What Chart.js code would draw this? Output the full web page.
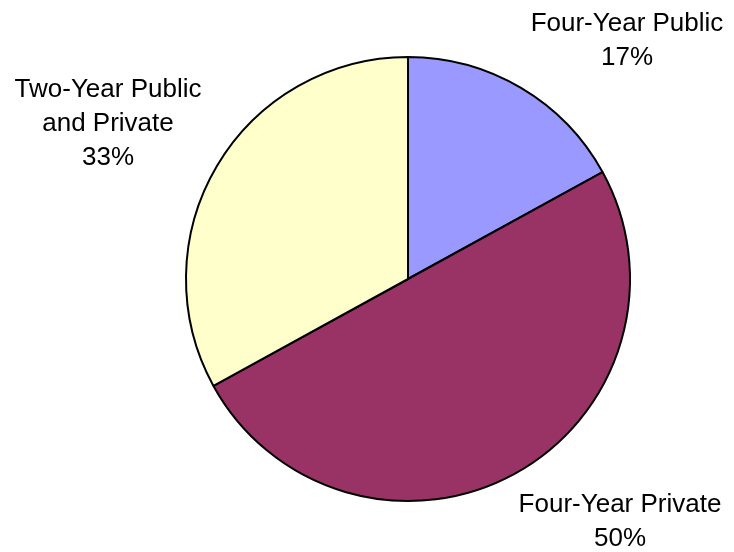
<!DOCTYPE html>
<html>
<head>
<meta charset="utf-8">
<title>Enrollment by sector</title>
<script src="https://cdn.jsdelivr.net/npm/chart.js@4"></script>
<style>
  html, body { margin: 0; padding: 0; background: #fff; }
  #wrap { width: 734px; height: 552px; }
</style>
</head>
<body>
<div id="wrap"><canvas id="grafico" width="734" height="552"></canvas></div>
<script>
const sectores = ["Four-Year Public", "Four-Year Private", "Two-Year Public and Private"];
const porcentajes = [17, 50, 33];
const colores = ["#9999FF", "#993366", "#FFFFCC"];

// text lines and where each label block sits (centre x, first line y)
const lineasEtiqueta = [
  ["Four-Year Public", "17%"],
  ["Four-Year Private", "50%"],
  ["Two-Year Public", "and Private", "33%"]
];
const posEtiqueta = [
  { x: 627, y: 24 },
  { x: 620, y: 505 },
  { x: 108, y: 90 }
];

const etiquetasFuera = {
  id: 'etiquetasFuera',
  afterDraw(chart) {
    const ctx = chart.ctx;
    ctx.save();
    ctx.font = '26px "Liberation Sans", Arial, sans-serif';
    ctx.fillStyle = '#000';
    ctx.textAlign = 'center';
    ctx.textBaseline = 'middle';
    chart.getDatasetMeta(0).data.forEach((arc, i) => {
      const p = posEtiqueta[i];
      lineasEtiqueta[i].forEach((t, j) => {
        // last line carries the slice value
        const txt = j === lineasEtiqueta[i].length - 1 ? porcentajes[i] + '%' : t;
        ctx.fillText(txt, p.x, p.y + j * 34);
      });
    });
    ctx.restore();
  }
};

const ctx = document.getElementById("grafico").getContext("2d");
new Chart(ctx, {
  type: 'pie',
  data: {
    labels: sectores,
    datasets: [{
      data: porcentajes,
      backgroundColor: colores,
      borderColor: '#000',
      borderWidth: 2,
      borderAlign: 'center'
    }]
  },
  options: {
    responsive: false,
    animation: false,
    rotation: 0,
    layout: { padding: { top: 56, bottom: 50, left: 185, right: 103 } },
    plugins: {
      legend: { display: false },
      tooltip: { enabled: false }
    }
  },
  plugins: [etiquetasFuera]
});
</script>
</body>
</html>
